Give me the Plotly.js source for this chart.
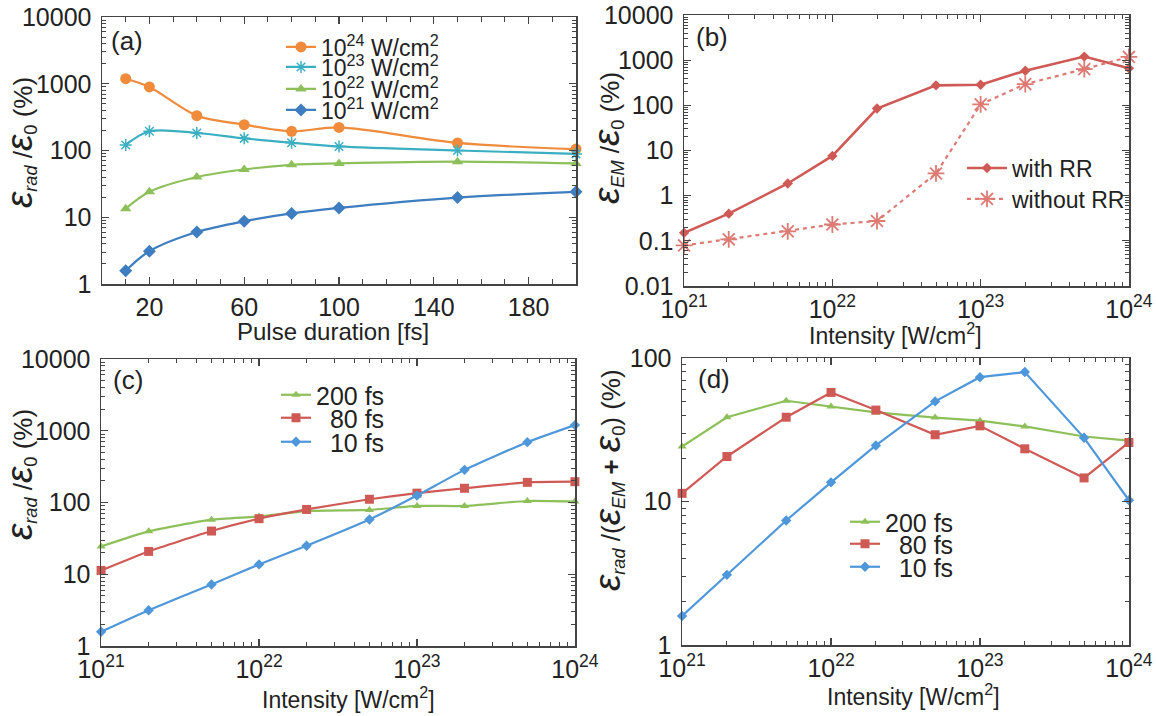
<!DOCTYPE html>
<html>
<head>
<meta charset="utf-8">
<script src="https://cdn.plot.ly/plotly-3.0.1.min.js"></script>
<style>html,body{margin:0;padding:0;background:#fff;}#plot{width:1156px;height:716px;}</style>
</head>
<body>
<div id="plot"></div>
<script>
// ---------- data ----------
const durations = [10, 20, 40, 60, 80, 100, 150, 200];
const a_I24 = [1190, 895, 333, 244, 194, 222, 130, 105];
const a_I23 = [121, 194, 183, 152, 131, 115, 100, 89];
const a_I22 = [13.4, 24, 40, 52, 61, 64, 68, 64];
const a_I21 = [1.58, 3.1, 6.0, 8.7, 11.4, 13.8, 19.7, 24];

const intensities = [1e21, 2e21, 5e21, 1e22, 2e22, 5e22, 1e23, 2e23, 5e23, 1e24];
const b_withRR = [0.15, 0.40, 1.86, 7.6, 85, 277, 286, 585, 1200, 660];
const b_withoutRR = [0.079, 0.108, 0.162, 0.23, 0.275, 3.1, 105, 296, 635, 1180];

const c_200fs = [24.4, 39.6, 57.6, 64, 76, 78.7, 89.5, 89.5, 105, 103];
const c_80fs = [11.3, 20.8, 40, 59.5, 80, 111, 135, 158, 191, 195];
const c_10fs = [1.58, 3.15, 7.2, 13.7, 25, 58, 125, 285, 694, 1200];

const d_200fs = [24.2, 38.7, 50.4, 46, 41.8, 38.5, 36.6, 33.4, 28.4, 26.6];
const d_80fs = [11.4, 20.6, 38.7, 57.6, 43.4, 29.2, 33.7, 23.3, 14.6, 25.8];
const d_10fs = [1.59, 3.08, 7.37, 13.6, 24.6, 49.9, 73.6, 79.9, 27.8, 10.2];

const a_names = ['10<sup>24</sup> W/cm<sup>2</sup>', '10<sup>23</sup> W/cm<sup>2</sup>', '10<sup>22</sup> W/cm<sup>2</sup>', '10<sup>21</sup> W/cm<sup>2</sup>'];
const b_names = ['with RR', 'without RR'];
const cd_names = ['200 fs', '\u200780 fs', '\u200710 fs'];

const yTicksA = [1, 10, 100, 1000, 10000];
const yTicksB = [0.01, 0.1, 1, 10, 100, 1000, 10000];
const yTicksD = [1, 10, 100];
const xTicksA = [20, 60, 100, 140, 180];
const xTicksLog = [1e21, 1e22, 1e23, 1e24];
const xTickTextLog = ['10<sup>21</sup>', '10<sup>22</sup>', '10<sup>23</sup>', '10<sup>24</sup>'];

// ---------- style ----------
const W = 1156, H = 716;
const FONT = 'Liberation Sans, Arial, Helvetica, sans-serif';
const TXT = '#222';
const AX = '#444';
const C = {orange:'#EF8B3B', teal:'#3BAFC2', green:'#8DC05A', blueA:'#3D7DC0', red:'#CF5A55', redL:'#DD7A74', blueC:'#4E97DB'};
const EDGE = 0.0006; // tiny pad so points lying exactly on the axis edges are kept

function minorLog(lo, hi) {
  const v = [];
  for (let e = lo; e < hi; e++) for (let m = 2; m <= 9; m++) v.push(m * Math.pow(10, e));
  return v;
}
function px2x(p) { return p / W; }
function px2y(p) { return 1 - p / H; }

function axisBase() {
  return {
    showgrid: false, zeroline: false, showline: true, linecolor: AX, linewidth: 1.5,
    mirror: 'ticks', ticks: 'inside', ticklen: 7, tickwidth: 1.2, tickcolor: AX,
    tickfont: {family: FONT, size: 25, color: TXT}, automargin: false
  };
}
function logX(domain, anchor) {
  return Object.assign(axisBase(), {
    type: 'log', range: [21 - EDGE, 24 + EDGE], domain: domain, anchor: anchor,
    tickmode: 'array', tickvals: xTicksLog, ticktext: xTickTextLog,
    minor: {tickmode: 'array', tickvals: minorLog(21, 24), ticks: 'inside', ticklen: 4, tickcolor: AX, tickwidth: 1}
  });
}
function logY(domain, anchor, lo, hi, vals) {
  return Object.assign(axisBase(), {
    type: 'log', range: [lo - EDGE, hi + EDGE], domain: domain, anchor: anchor,
    tickmode: 'array', tickvals: vals, ticktext: vals.map(v => String(v)),
    ticklabelstandoff: 4,
    minor: {tickmode: 'array', tickvals: minorLog(lo, hi), ticks: 'inside', ticklen: 4, tickcolor: AX, tickwidth: 1}
  });
}
function leg(xLeft, yMid, size, itemwidth) {
  return {x: px2x(xLeft), y: px2y(yMid), xanchor: 'left', yanchor: 'middle', xref: 'paper', yref: 'paper',
    bgcolor: 'rgba(0,0,0,0)', borderwidth: 0, font: {family: FONT, size: size, color: TXT},
    itemwidth: itemwidth || 30, tracegroupgap: 0};
}

// domains (pixel based)
const dom = {
  xa: [px2x(102), px2x(576)], ya: [px2y(284), px2y(17)],
  xb: [px2x(684), px2x(1129)], yb: [px2y(286), px2y(15)],
  xc: [px2x(101), px2x(575)], yc: [px2y(646), px2y(359)],
  xd: [px2x(682), px2x(1129)], yd: [px2y(645), px2y(358)]
};

const traces = [];
// panel (a)
const aSeries = [a_I24, a_I23, a_I22, a_I21];
const aStyle = [
  {color: C.orange, symbol: 'circle', size: 11},
  {color: C.teal, symbol: 'asterisk-open', size: 10},
  {color: C.green, symbol: 'triangle-up', size: 10},
  {color: C.blueA, symbol: 'diamond', size: 10}
];
const aLegY = [47, 67, 89, 110];
aSeries.forEach((ys, i) => {
  const s = aStyle[i];
  traces.push({
    x: durations, y: ys, xaxis: 'x', yaxis: 'y', type: 'scatter', mode: 'lines+markers',
    name: a_names[i], legend: i === 0 ? 'legend' : 'legend' + (i + 1),
    line: {color: s.color, width: 2.2, shape: 'spline', smoothing: 0.9},
    marker: {color: s.color, symbol: s.symbol, size: s.size, line: {color: s.color, width: s.symbol === 'asterisk-open' ? 1.5 : 0}},
    cliponaxis: false
  });
});
// panel (b)
traces.push({
  x: intensities, y: b_withRR, xaxis: 'x2', yaxis: 'y2', type: 'scatter', mode: 'lines+markers',
  name: b_names[0], legend: 'legend5',
  line: {color: C.red, width: 2.6}, marker: {color: C.red, symbol: 'diamond', size: 8}, cliponaxis: false
});
traces.push({
  x: intensities, y: b_withoutRR, xaxis: 'x2', yaxis: 'y2', type: 'scatter', mode: 'lines+markers',
  name: b_names[1], legend: 'legend6',
  line: {color: C.redL, width: 2.2, dash: '4px,4px'},
  marker: {color: C.redL, symbol: 'asterisk-open', size: 14, line: {color: '#E39690', width: 1.8}}, cliponaxis: false
});
// panel (c) & (d)
const cdStyle = [
  {color: C.green, symbol: 'triangle-up', size: 8},
  {color: C.red, symbol: 'square', size: 9},
  {color: C.blueC, symbol: 'diamond', size: 8}
];
[c_200fs, c_80fs, c_10fs].forEach((ys, i) => {
  const s = cdStyle[i];
  traces.push({
    x: intensities, y: ys, xaxis: 'x3', yaxis: 'y3', type: 'scatter', mode: 'lines+markers',
    name: cd_names[i], legend: 'legend' + (7 + i),
    line: {color: s.color, width: 2.2, shape: 'spline', smoothing: 0.5},
    marker: {color: s.color, symbol: s.symbol, size: s.size}, cliponaxis: false
  });
});
[d_200fs, d_80fs, d_10fs].forEach((ys, i) => {
  const s = cdStyle[i];
  traces.push({
    x: intensities, y: ys, xaxis: 'x4', yaxis: 'y4', type: 'scatter', mode: 'lines+markers',
    name: cd_names[i], legend: 'legend' + (10 + i),
    line: {color: s.color, width: 2.2},
    marker: {color: s.color, symbol: s.symbol, size: s.size}, cliponaxis: false
  });
});

const EPS = '<span style="font-size:37px"><i>ε</i></span>';
function ann(text, xpx, ypx, size, angle) {
  return {text: text, x: px2x(xpx), y: px2y(ypx), xref: 'paper', yref: 'paper', showarrow: false,
    xanchor: 'center', yanchor: 'middle', textangle: angle || 0, font: {family: FONT, size: size, color: TXT}};
}

const layout = {
  width: W, height: H, margin: {l: 0, r: 0, t: 0, b: 0},
  paper_bgcolor: '#fff', plot_bgcolor: '#fff', showlegend: true,
  font: {family: FONT, color: TXT},
  xaxis: Object.assign(axisBase(), {
    domain: dom.xa, anchor: 'y', range: [0, 200], tickmode: 'array', tickvals: xTicksA,
    minor: {dtick: 10, tick0: 0, ticks: 'inside', ticklen: 5, tickcolor: AX, tickwidth: 1}
  }),
  yaxis: logY(dom.ya, 'x', 0, 4, yTicksA),
  xaxis2: logX(dom.xb, 'y2'),
  yaxis2: logY(dom.yb, 'x2', -2, 4, yTicksB),
  xaxis3: logX(dom.xc, 'y3'),
  yaxis3: logY(dom.yc, 'x3', 0, 4, yTicksA),
  xaxis4: logX(dom.xd, 'y4'),
  yaxis4: logY(dom.yd, 'x4', 0, 2, yTicksD),
  legend: leg(281, aLegY[0], 23),
  legend2: leg(281, aLegY[1], 23),
  legend3: leg(281, aLegY[2], 23),
  legend4: leg(281, aLegY[3], 23),
  legend5: leg(962, 168, 23, 40),
  legend6: leg(962, 199, 23, 40),
  legend7: leg(276, 395, 25),
  legend8: leg(276, 418, 25),
  legend9: leg(276, 442, 25),
  legend10: leg(845, 522, 25),
  legend11: leg(845, 544, 25),
  legend12: leg(845, 567, 25),
  annotations: [
    ann('(a)', 127, 41, 26), ann('(b)', 712, 37, 26), ann('(c)', 128, 380, 26), ann('(d)', 714, 379, 26),
    ann('Pulse duration [fs]', 333, 331, 24),
    ann('Intensity [W/cm<sup>2</sup>]', 895, 334, 23),
    ann('Intensity [W/cm<sup>2</sup>]', 348, 698, 23),
    ann('Intensity [W/cm<sup>2</sup>]', 913, 695, 23),
    ann(EPS + '<sub><i>rad</i></sub> /' + EPS + '<sub>0</sub> (%)', 20, 143, 26, -90),
    ann(EPS + '<sub><i>EM</i></sub> /' + EPS + '<sub>0</sub> (%)', 607, 138, 26, -90),
    ann(EPS + '<sub><i>rad</i></sub> /' + EPS + '<sub>0</sub> (%)', 20, 475, 26, -90),
    ann(EPS + '<sub><i>rad</i></sub> /(' + EPS + '<sub><i>EM</i></sub> <b>+</b> ' + EPS + '<sub>0</sub>) (%)', 608, 480, 26, -90)
  ]
};

Plotly.newPlot('plot', traces, layout, {displayModeBar: false, staticPlot: true});
</script>
</body>
</html>
